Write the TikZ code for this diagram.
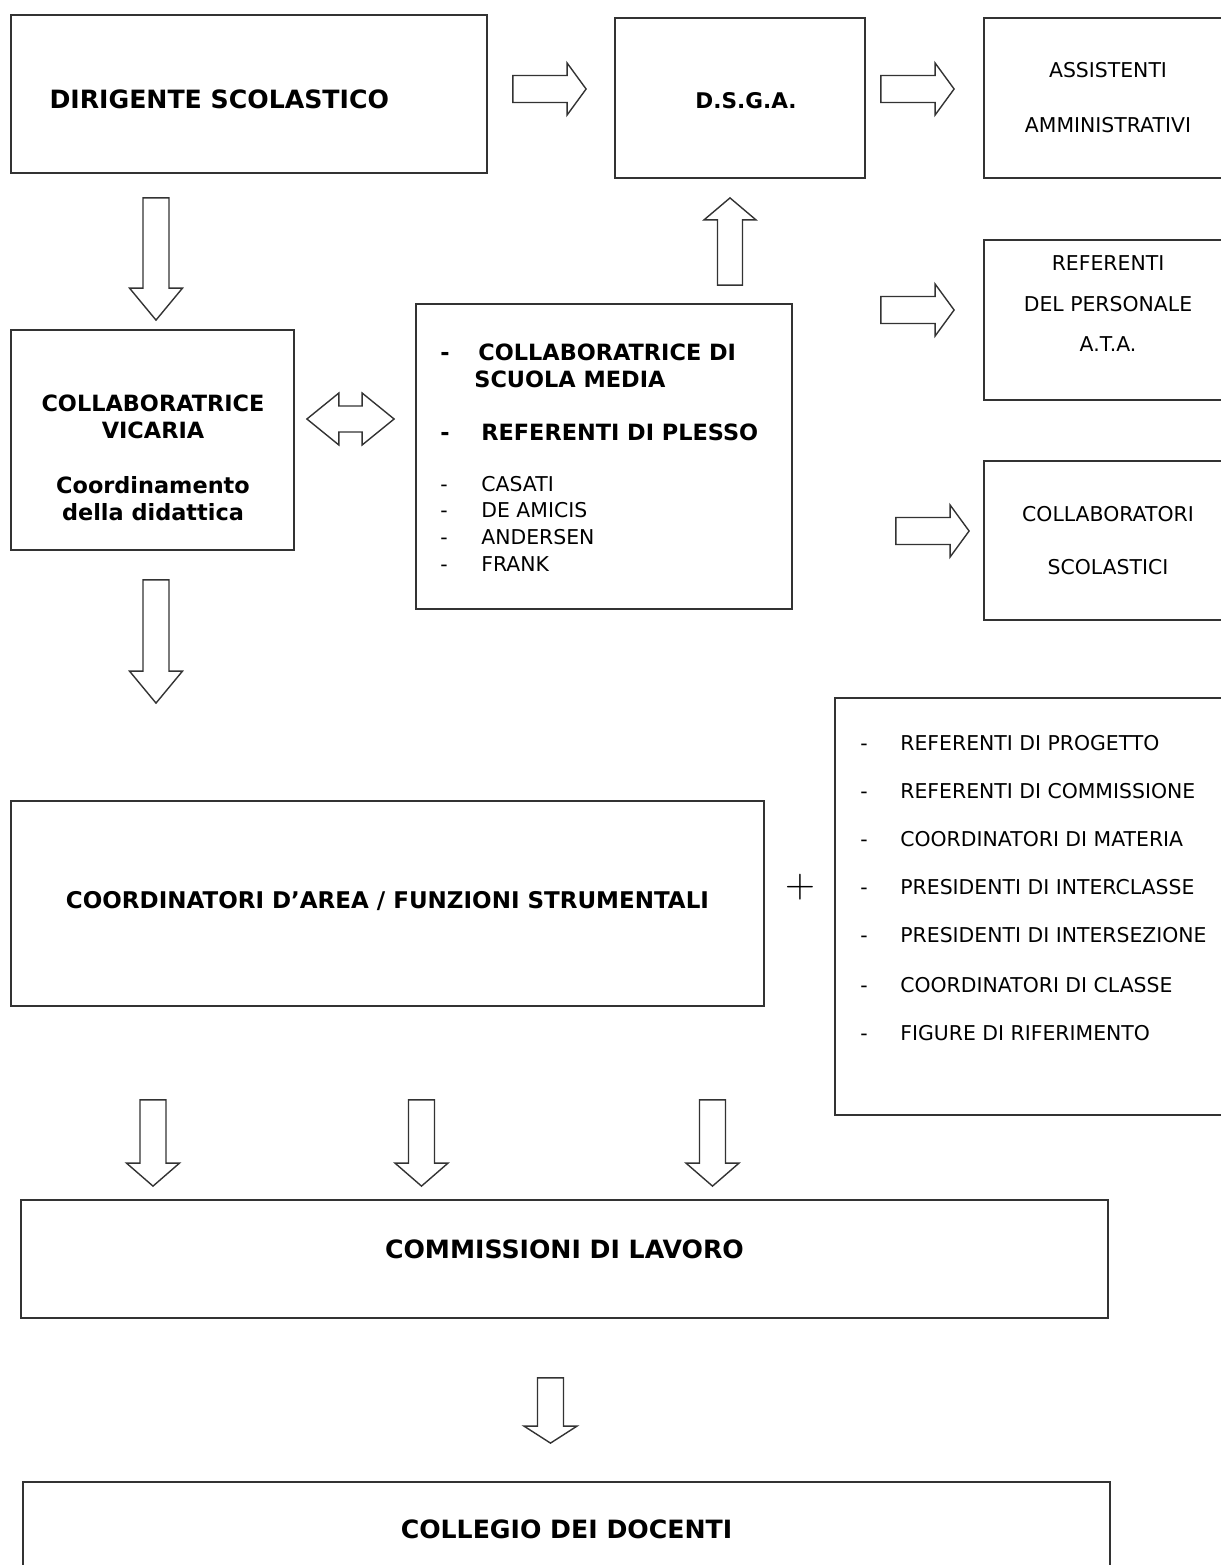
\documentclass[tikz,border=0pt]{standalone}
\usepackage[no-math]{fontspec}
\setmainfont{DejaVu Sans}
\usetikzlibrary{positioning, calc}

\tikzset{
  ba shaft/.store in=\bashaft, ba head/.store in=\bahead, ba hlen/.store in=\bahlen,
  ba shaft=6.5pt, ba head=13pt, ba hlen=10pt,
  fatarrow/.style={draw=black!80, line width=0.7pt, fill=white,
    to path={let \p1=(\tikztostart), \p2=(\tikztotarget), \n1={atan2(\y2-\y1,\x2-\x1)} in
      ($(\p1)+(\n1+90:\bashaft)$)
      -- ($(\p2)+(\n1+180:\bahlen)+(\n1+90:\bashaft)$)
      -- ($(\p2)+(\n1+180:\bahlen)+(\n1+90:\bahead)$)
      -- (\p2)
      -- ($(\p2)+(\n1+180:\bahlen)+(\n1-90:\bahead)$)
      -- ($(\p2)+(\n1+180:\bahlen)+(\n1-90:\bashaft)$)
      -- ($(\p1)+(\n1-90:\bashaft)$) -- cycle}},
  fatboth/.style={draw=black!80, line width=0.7pt, fill=white,
    to path={let \p1=(\tikztostart), \p2=(\tikztotarget), \n1={atan2(\y2-\y1,\x2-\x1)} in
      ($(\p1)+(\n1:\bahlen)+(\n1+90:\bashaft)$)
      -- ($(\p2)+(\n1+180:\bahlen)+(\n1+90:\bashaft)$)
      -- ($(\p2)+(\n1+180:\bahlen)+(\n1+90:\bahead)$)
      -- (\p2)
      -- ($(\p2)+(\n1+180:\bahlen)+(\n1-90:\bahead)$)
      -- ($(\p2)+(\n1+180:\bahlen)+(\n1-90:\bashaft)$)
      -- ($(\p1)+(\n1:\bahlen)+(\n1-90:\bashaft)$)
      -- ($(\p1)+(\n1:\bahlen)+(\n1-90:\bahead)$)
      -- (\p1)
      -- ($(\p1)+(\n1:\bahlen)+(\n1+90:\bahead)$) -- cycle}},
  fatright/.style={fatarrow, ba shaft=6.75pt, ba head=13pt, ba hlen=9.5pt},
  fatdown/.style={fatarrow, ba shaft=6.5pt, ba head=13.25pt, ba hlen=16pt},
  fatup/.style={fatarrow, ba shaft=6.25pt, ba head=13pt, ba hlen=11pt},
}

\begin{document}
\begin{tikzpicture}
  [x=0.5pt, y=-0.5pt,
   basicbox/.style={draw=black!80, line width=0.9pt, rectangle, inner sep=0pt},
   boldlabel/.style={inner sep=0pt, align=center, font=\bfseries\fontsize{11.2}{13.5}\selectfont},
   plainlabel/.style={inner sep=0pt, align=center, font=\fontsize{10.2}{12}\selectfont},
   listitem/.style={inner sep=0pt, anchor=west, font=\fontsize{10.2}{12}\selectfont},
   boldfont/.style={font=\bfseries\fontsize{11.2}{13.5}\selectfont}]
  \useasboundingbox (0,0) rectangle (1221,1565);
  % boxes
  \node (dirigente) at (249,94) [basicbox, minimum width=238pt, minimum height=79pt] {};
  \node (dsga) at (740,98) [basicbox, minimum width=125pt, minimum height=80pt] {};
  \node (assistenti) at (1108,98) [basicbox, minimum width=124pt, minimum height=80pt] {};
  \node (referenti) at (1108,320) [basicbox, minimum width=124pt, minimum height=80pt] {};
  \node (collaboratori) at (1108,540.5) [basicbox, minimum width=124pt, minimum height=79.5pt] {};
  \node (vicaria) at (152.5,440) [basicbox, minimum width=141.5pt, minimum height=110pt] {};
  \node (plesso) at (604,456.5) [basicbox, minimum width=188pt, minimum height=152.5pt] {};
  \node (figure) at (1033.5,906.5) [basicbox, minimum width=198.5pt, minimum height=208.5pt] {};
  \node (coordinatori) at (387.5,903.5) [basicbox, minimum width=376.5pt, minimum height=102.5pt] {};
  \node (commissioni) at (564.5,1259) [basicbox, minimum width=543.5pt, minimum height=59pt] {};
  \node (collegio) at (566.5,1531) [basicbox, minimum width=543.5pt, minimum height=49pt] {};
  % labels
  \node (dirigentelabel) [boldlabel, right=19.5pt of dirigente.west, yshift=-2.5pt,
    font=\bfseries\fontsize{12.6}{15}\selectfont] {DIRIGENTE SCOLASTICO};
  \node (dsgalabel) at (dsga.center) [boldlabel, xshift=3pt, yshift=-1.5pt,
    font=\bfseries\fontsize{10.8}{13}\selectfont] {D.S.G.A.};
  \node (assistentilabel) at (assistenti.center) [plainlabel,
    font=\fontsize{10.2}{27.5}\selectfont] {ASSISTENTI\\AMMINISTRATIVI};
  \node (referentilabel) at ($(referenti.center)+(0,-16)$) [plainlabel,
    font=\fontsize{10.2}{20.25}\selectfont] {REFERENTI\\DEL PERSONALE\\A.T.A.};
  \node (collaboratorilabel) at (collaboratori.center) [plainlabel,
    font=\fontsize{10.2}{26.5}\selectfont] {COLLABORATORI\\SCOLASTICI};
  \node (vicarialabel) at ($(vicaria.center)+(0.5,17.5)$) [boldlabel]
    {COLLABORATRICE\\VICARIA\\[14pt]Coordinamento\\della didattica};
  \node (plessoitem1) at (440,352) [listitem, boldfont] {\makebox[19pt][l]{-}COLLABORATRICE DI};
  \node (plessoitem1b) at (474,379) [listitem, boldfont] {SCUOLA MEDIA};
  \node (plessoitem2) at (440,432) [listitem, boldfont] {\makebox[20.5pt][l]{-}REFERENTI DI PLESSO};
  \node (casati) at (440,484) [listitem] {\makebox[20.5pt][l]{-}CASATI};
  \node (deamicis) at (440,510) [listitem] {\makebox[20.5pt][l]{-}DE AMICIS};
  \node (andersen) at (440,537) [listitem] {\makebox[20.5pt][l]{-}ANDERSEN};
  \node (frank) at (440,564) [listitem] {\makebox[20.5pt][l]{-}FRANK};
  \node (figure1) at (860,743) [listitem] {\makebox[20pt][l]{-}REFERENTI DI PROGETTO};
  \node (figure2) at (860,791) [listitem] {\makebox[20pt][l]{-}REFERENTI DI COMMISSIONE};
  \node (figure3) at (860,839) [listitem] {\makebox[20pt][l]{-}COORDINATORI DI MATERIA};
  \node (figure4) at (860,887) [listitem] {\makebox[20pt][l]{-}PRESIDENTI DI INTERCLASSE};
  \node (figure5) at (860,935) [listitem] {\makebox[20pt][l]{-}PRESIDENTI DI INTERSEZIONE};
  \node (figure6) at (860,985) [listitem] {\makebox[20pt][l]{-}COORDINATORI DI CLASSE};
  \node (figure7) at (860,1033) [listitem] {\makebox[20pt][l]{-}FIGURE DI RIFERIMENTO};
  \node (pluslabel) at (800,887) [inner sep=0pt, font=\fontsize{22}{22}\selectfont] {$+$};
  \node (coordinatorilabel) at (coordinatori.center) [boldlabel, yshift=1.25pt,
    font=\bfseries\fontsize{11.5}{13}\selectfont] {COORDINATORI D’AREA / FUNZIONI STRUMENTALI};
  \node (commissionilabel) at (commissioni.center) [boldlabel, yshift=5pt,
    font=\bfseries\fontsize{12.6}{15}\selectfont] {COMMISSIONI DI LAVORO};
  \node (collegiolabel) at (collegio.center) [boldlabel, yshift=1pt,
    font=\bfseries\fontsize{12.6}{15}\selectfont] {COLLEGIO DEI DOCENTI};
  % block arrows
  \draw [fatright] ($(dirigente.east)+(25,-5)$) to ($(dsga.west)+(-28,-9)$);
  \draw [fatright] ($(dsga.east)+(15,-9)$) to ($(assistenti.west)+(-29,-9)$);
  \draw [fatright] ($(dsga.east |- referenti.west)+(15,-10)$) to ($(referenti.west)+(-29,-10)$);
  \draw [fatright] ($(dsga.east |- collaboratori.west)+(30,-9.5)$) to ($(collaboratori.west)+(-14,-9.5)$);
  \draw [fatdown] ($(dirigente.south -| vicaria.north)+(3.5,24)$) to ($(vicaria.north)+(3.5,-9)$);
  \draw [fatdown] ($(vicaria.south)+(3.5,29)$) to ($(vicaria.south |- coordinatori.north)+(3.5,-97)$);
  \draw [fatup] ($(plesso.north)+(126,-18)$) to ($(dsga.south)+(-10,19)$);
  \draw [fatboth, ba shaft=6.5pt, ba head=13pt, ba hlen=16pt] ($(vicaria.east)+(12,-21)$) to ($(plesso.west)+(-21,-37.5)$);
  \draw [fatdown, ba hlen=11.5pt] ($(coordinatori.south)+(-234.5,93)$) to ($(commissioni.north)+(-411.5,-13)$);
  \draw [fatdown, ba hlen=11.5pt] ($(coordinatori.south)+(34,93)$) to ($(commissioni.north)+(-143,-13)$);
  \draw [fatdown, ba hlen=11.5pt] ($(coordinatori.south)+(325,93)$) to ($(commissioni.north)+(148,-13)$);
  \draw [fatdown, ba hlen=8.5pt] ($(commissioni.south)+(-14,59)$) to ($(collegio.north)+(-16,-38)$);
\end{tikzpicture}
\end{document}
